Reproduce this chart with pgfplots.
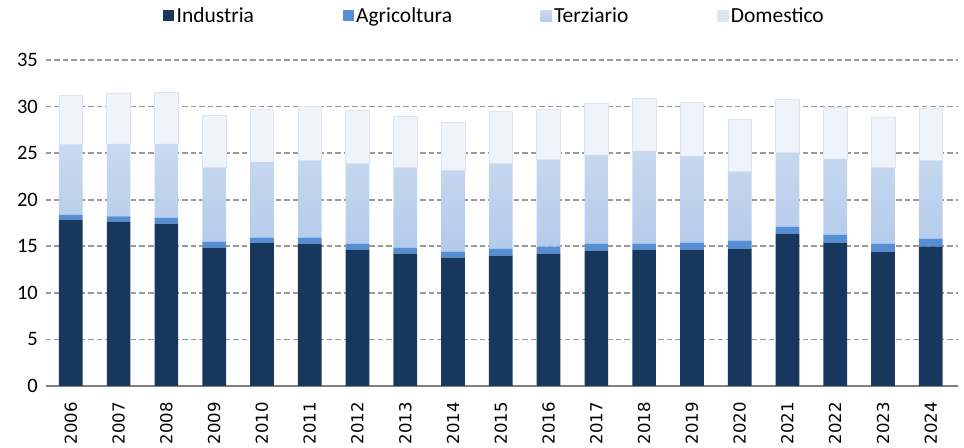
\documentclass[border=0pt]{standalone}
\usepackage{pgfplots}
\pgfplotsset{compat=1.18}
\usepackage{pgfplotstable}
\usepackage{fontspec}
\setmainfont{Carlito}
\newfontfamily\dejavu{DejaVu Sans}
\definecolor{cInd}{HTML}{17375E}
\definecolor{cAgr}{HTML}{558ED5}
\definecolor{cTerTop}{HTML}{C9DAF0}
\definecolor{cTerBot}{HTML}{B3CAEA}
\definecolor{cTerLeg}{HTML}{8EB4E3}
\definecolor{cDom}{HTML}{F0F4FA}
\definecolor{cDomLeg}{HTML}{DCE6F2}
\definecolor{cGrid}{HTML}{9A9A9A}
\definecolor{cAxis}{HTML}{808080}
\pgfplotstableread{
x I A T D
0 17.86 0.54 7.50 5.30
1 17.65 0.55 7.80 5.47
2 17.43 0.64 7.93 5.57
3 14.86 0.64 7.93 5.68
4 15.40 0.53 8.14 5.65
5 15.29 0.64 8.25 5.82
6 14.64 0.65 8.57 5.74
7 14.21 0.65 8.57 5.57
8 13.79 0.64 8.68 5.25
9 14.00 0.75 9.11 5.68
10 14.21 0.75 9.33 5.46
11 14.54 0.75 9.53 5.57
12 14.64 0.65 9.96 5.68
13 14.64 0.75 9.32 5.79
14 14.75 0.86 7.39 5.68
15 16.36 0.75 7.93 5.78
16 15.39 0.86 8.14 5.57
17 14.43 0.86 8.14 5.46
18 14.96 0.86 8.36 5.68
}\datatable
\begin{document}
\begin{tikzpicture}
\begin{axis}[
  name=ax,
  scale only axis,
  width=912bp, height=326bp,
  ybar stacked,
  bar width=23.7bp,
  xmin=-0.52, xmax=18.57,
  ymin=0, ymax=35,
  enlargelimits=false,
  ytick={0,5,...,35},
  xtick=data,
  xticklabels={2006,2007,2008,2009,2010,2011,2012,2013,2014,2015,2016,2017,2018,2019,2020,2021,2022,2023,2024},
  /pgf/number format/assume math mode=true,
  axis x line=bottom,
  axis y line=left,
  y axis line style={draw=none},
  x axis line style={-, draw=cAxis, line width=2bp},
  major tick length=0pt,
  ymajorgrids,
  grid style={draw=cGrid, line width=1.8bp, dash pattern=on 5.5bp off 3bp},
  yticklabel style={font=\fontsize{20.5bp}{24bp}\selectfont, inner sep=0pt, xshift=-8bp},
  xticklabel style={font=\dejavu\fontsize{16.5bp}{18bp}\selectfont, rotate=90, anchor=east, inner sep=0pt},
  xticklabel shift=16bp,
  legend columns=4,
  legend style={draw=none, fill=none, at={(0.492,1.135)}, anchor=center,
    font=\fontsize{21.5bp}{24bp}\selectfont,
    /tikz/every even column/.append style={column sep=86bp},
    nodes={inner sep=2.5bp}},
]
\addplot[draw=none, fill=cInd,
  legend image code/.code={\fill[cInd] (0bp,-5.5bp) rectangle (11bp,5.5bp);}]
  table[x=x, y=I] {\datatable};
\addlegendentry{Industria}
\addplot[draw=none, fill=cAgr,
  legend image code/.code={\fill[cAgr] (0bp,-5.5bp) rectangle (11bp,5.5bp);}]
  table[x=x, y=A] {\datatable};
\addlegendentry{Agricoltura}
\addplot[draw=none, top color=cTerTop, bottom color=cTerBot,
  legend image code/.code={\fill[cTerLeg] (0bp,-5.5bp) rectangle (11bp,5.5bp);}]
  table[x=x, y=T] {\datatable};
\addlegendentry{Terziario}
\addplot[draw=cDomLeg, line width=0.6bp, fill=cDom,
  legend image code/.code={\fill[cDomLeg] (0bp,-5.5bp) rectangle (11bp,5.5bp);}]
  table[x=x, y=D] {\datatable};
\addlegendentry{Domestico}
\end{axis}
\pgfresetboundingbox
\path[use as bounding box] ([shift={(-46bp,-62bp)}]ax.south west) rectangle ([shift={(6bp,60bp)}]ax.north east);
\end{tikzpicture}
\end{document}
